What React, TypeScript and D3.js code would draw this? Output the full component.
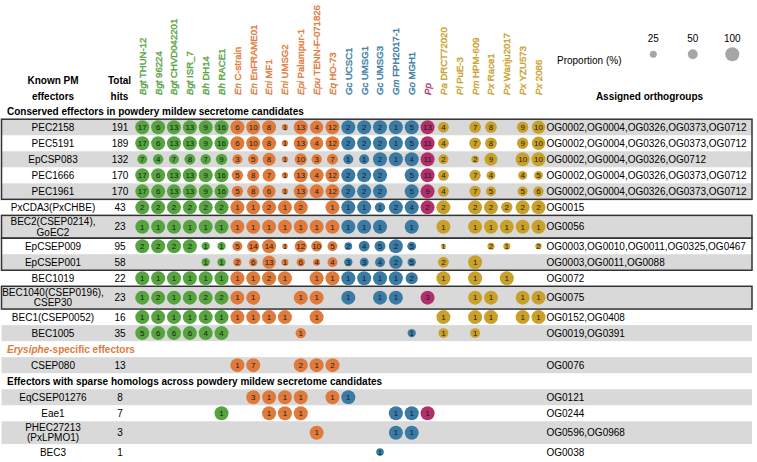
import React, { useRef, useEffect } from 'react';
import * as d3 from 'd3';

const _ = null;

// genome columns
const species = ['Bgt', 'Bgt', 'Bgt', 'Bgt', 'Bh', 'Bh', 'En', 'En', 'Eni', 'Eni', 'Epi', 'Epu', 'Eq',
    'Gc', 'Gc', 'Gc', 'Gm', 'Go', 'Pp', 'Pa', 'Pl', 'Pm', 'Px', 'Px', 'Px', 'Px'];
const strains = ['THUN-12', '96224', 'CHVD042201', 'ISR_7', 'DH14', 'RACE1', 'C-strain', 'EnFRAME01', 'MF1', 'UMSG2',
    'Palampur-1', 'TENN-F-071826', 'HO-73', 'UCSC1', 'UMSG1', 'UMSG3', 'FPH2017-1', 'MGH1', '', 'DRCT72020',
    'PuE-3', 'HPM-609', 'Race1', 'Wanju2017', 'YZU573', '2086'];
const clade = ['B', 'B', 'B', 'B', 'B', 'B', 'E', 'E', 'E', 'E', 'E', 'E', 'E',
    'G', 'G', 'G', 'G', 'G', 'Pp', 'P', 'P', 'P', 'P', 'P', 'P', 'P'];

const cladeColor = {
    B: '#56a43f',
    E: '#e07a3b',
    G: '#3a7ba5',
    Pp: '#b1306b',
    P: '#c9a12a',
};

// effector rows
const effectors = ['PEC2158', 'PEC5191', 'EpCSP083', 'PEC1666', 'PEC1961', 'PxCDA3(PxCHBE)',
    'BEC2(CSEP0214),\nGoEC2', 'EpCSEP009', 'EpCSEP001', 'BEC1019', 'BEC1040(CSEP0196),\nCSEP30',
    'BEC1(CSEP0052)', 'BEC1005', 'CSEP080', 'EqCSEP01276', 'Eae1', 'PHEC27213\n(PxLPMO1)', 'BEC3'];
const totalHits = [191, 189, 132, 170, 170, 43, 23, 95, 58, 22, 23, 16, 35, 13, 8, 7, 3, 1];
const orthogroups = [
    'OG0002,OG0004,OG0326,OG0373,OG0712',
    'OG0002,OG0004,OG0326,OG0373,OG0712',
    'OG0002,OG0004,OG0326,OG0712',
    'OG0002,OG0004,OG0326,OG0373,OG0712',
    'OG0002,OG0004,OG0326,OG0373,OG0712',
    'OG0015',
    'OG0056',
    'OG0003,OG0010,OG0011,OG0325,OG0467',
    'OG0003,OG0011,OG0088',
    'OG0072',
    'OG0075',
    'OG0152,OG0408',
    'OG0019,OG0391',
    'OG0076',
    'OG0121',
    'OG0244',
    'OG0596,OG0968',
    'OG0038',
];

const sections = [
    { start: 0, lead: '', title: 'Conserved effectors in powdery mildew secretome candidates', color: '#000' },
    { start: 13, lead: 'Erysiphe', title: '-specific effectors', color: '#e07a3b' },
    { start: 14, lead: '', title: 'Effectors with sparse homologs across powdery mildew secretome candidates', color: '#000' },
];

// outlined row groups [first, last]
const boxedRows = [[0, 4], [6, 6], [7, 8], [10, 10]];

// number of homologs per genome
const hitCounts = [
    [17, 6, 13, 13, 9, 16, 6, 10, 8, 1, 13, 4, 12, 2, 2, 2, 1, 5, 13, 4, _, 7, 8, _, 9, 10],
    [17, 6, 13, 13, 9, 16, 6, 10, 8, 1, 13, 4, 12, 2, 2, 2, 1, 5, 11, 4, _, 7, 8, _, 9, 10],
    [7, 4, 7, 8, 7, 9, 3, 5, 8, 1, 10, 3, 7, 1, 1, 2, 1, 4, 11, 2, _, 2, 9, _, 10, 10],
    [17, 6, 13, 13, 9, 16, 5, 8, 7, 1, 13, 4, 12, 2, 2, 2, _, 5, 11, 4, _, 7, 4, _, 4, 5],
    [17, 6, 13, 13, 9, 16, 5, 8, 6, 1, 13, 4, 12, 2, 2, 2, _, 5, 9, 4, _, 7, 5, _, 5, 6],
    [2, 2, 2, 2, 2, 2, 1, 1, 2, 1, 2, _, 1, 1, 1, 1, 2, 4, 2, 2, _, 2, 2, 2, 2, 2],
    [1, 1, 1, 1, 1, 1, 1, 1, 1, 1, 1, 1, 1, 1, 1, 1, _, 1, _, 1, _, 1, 1, 1, 1, 1],
    [2, 2, 2, 2, 1, 1, 5, 14, 14, 1, 12, 10, 5, 2, 4, 5, 2, 5, _, 1, _, _, 2, 1, _, 2],
    [_, _, _, _, 1, 1, 2, 6, 13, 1, 6, 4, 4, 3, 3, 4, 2, 5, _, 2, _, 1, _, _, _, _],
    [1, 1, 1, 1, 1, 1, 1, 1, 2, 1, _, 1, 1, 1, 1, 1, 1, 2, _, 1, _, 1, _, 1, _, _],
    [1, 2, 1, 1, 2, 2, 1, 1, _, _, 1, 1, _, 1, _, 1, 1, _, 3, _, _, 1, 1, _, 1, 1],
    [1, 1, 1, 1, 1, 1, 1, 1, 1, 1, _, 1, _, _, _, _, _, _, _, 1, _, 1, 1, _, 1, 1],
    [5, 6, 6, 6, 4, 4, _, _, _, _, 1, _, _, _, _, _, _, 1, _, 1, _, 1, _, _, _, _],
    [_, _, _, _, _, _, 1, 7, _, _, 2, 1, 2, _, _, _, _, _, _, _, _, _, _, _, _, _],
    [_, _, _, _, _, _, _, 3, 1, 1, 1, _, 1, 1, _, _, _, _, _, _, _, _, _, _, _, _],
    [_, _, _, _, _, 1, _, _, 1, 1, 1, _, _, _, _, _, 1, 1, 1, _, _, _, _, _, _, _],
    [_, _, _, _, _, _, _, _, _, _, _, 1, _, _, _, _, 1, 1, _, _, _, _, _, _, _, _],
    [_, _, _, _, _, _, _, _, _, _, _, _, _, _, _, 1, _, _, _, _, _, _, _, _, _, _],
];

// proportion (%) per genome, sets circle area
const proportions = [
    [100, 100, 100, 100, 100, 100, 100, 100, 100, 20, 100, 90, 100, 100, 100, 100, 100, 100, 100, 60, _, 70, 70, _, 65, 90],
    [100, 100, 100, 100, 100, 100, 100, 100, 100, 20, 100, 90, 100, 100, 100, 100, 100, 100, 100, 60, _, 70, 70, _, 65, 90],
    [50, 55, 50, 60, 55, 65, 50, 55, 85, 20, 75, 55, 60, 50, 50, 100, 100, 100, 100, 50, _, 30, 85, _, 100, 100],
    [100, 100, 100, 100, 100, 100, 65, 75, 85, 20, 100, 100, 100, 100, 100, 100, _, 100, 100, 60, _, 65, 40, _, 40, 40],
    [100, 100, 100, 100, 100, 100, 65, 75, 85, 20, 100, 100, 100, 100, 100, 100, _, 100, 100, 60, _, 65, 50, _, 50, 55],
    [100, 100, 100, 100, 100, 100, 100, 100, 100, 100, 100, _, 100, 100, 100, 55, 100, 100, 100, 100, _, 100, 100, 65, 100, 100],
    [100, 100, 100, 100, 100, 100, 100, 100, 100, 100, 100, 100, 100, 100, 100, 100, _, 100, _, 100, _, 100, 100, 100, 100, 100],
    [100, 100, 100, 100, 35, 35, 50, 75, 100, 15, 75, 60, 50, 30, 60, 60, 100, 40, _, 12, _, _, 25, 25, _, 20],
    [_, _, _, _, 35, 35, 35, 35, 90, 25, 35, 25, 50, 35, 40, 50, 90, 35, _, 60, _, 100, _, _, _, _],
    [100, 100, 100, 100, 100, 100, 100, 100, 100, 100, _, 100, 100, 100, 100, 100, 100, 75, _, 100, _, 100, _, 100, _, _],
    [100, 100, 100, 100, 100, 100, 100, 100, _, _, 100, 100, _, 100, _, 100, 100, _, 100, _, _, 100, 100, _, 100, 100],
    [100, 100, 100, 100, 100, 100, 100, 100, 100, 100, _, 100, _, _, _, _, _, _, _, 100, _, 100, 100, _, 100, 100],
    [100, 100, 100, 100, 100, 100, _, _, _, _, 55, _, _, _, _, _, _, 35, _, 50, _, 50, _, _, _, _],
    [_, _, _, _, _, _, 100, 100, _, _, 100, 100, 100, _, _, _, _, _, _, _, _, _, _, _, _, _],
    [_, _, _, _, _, _, _, 100, 100, 100, 100, _, 100, 100, _, _, _, _, _, _, _, _, _, _, _, _],
    [_, _, _, _, _, 100, _, _, 100, 100, 100, _, _, _, _, _, 100, 100, 100, _, _, _, _, _, _, _],
    [_, _, _, _, _, _, _, _, _, _, _, 100, _, _, _, _, 100, 100, _, _, _, _, _, _, _, _],
    [_, _, _, _, _, _, _, _, _, _, _, _, _, _, _, 30, _, _, _, _, _, _, _, _, _, _],
];

const legendValues = [25, 50, 100];

const App = () => {
    const svgRef = useRef(null);

    const width = 757;
    const height = 462;
    const font = '"Liberation Sans", Arial, sans-serif';

    useEffect(() => {
        const svg = d3.select(svgRef.current);
        svg.selectAll('*').remove();
        svg.attr('font-family', font);

        const x = d3.scalePoint().domain(d3.range(species.length)).range([142.3, 538.5]);
        const r = d3.scaleSqrt().domain([0, 100]).range([0, 7]);

        const single = 16.03;
        const double = 22.8;
        const left = 1.5;
        const right = 752;

        // vertical layout of section headers and rows
        const rowY = [];
        const sectionY = [];
        let cursor = 103.17;
        effectors.forEach((name, i) => {
            const sec = sections.find(s => s.start === i);
            if (sec) {
                sectionY.push(cursor + single / 2);
                cursor += single;
            }
            const h = name.includes('\n') ? double : single;
            rowY.push({ top: cursor, h, mid: cursor + h / 2 });
            cursor += h;
        });

        // row shading
        effectors.forEach((name, i) => {
            const sec = sections.filter(s => s.start <= i).pop();
            if ((i - sec.start) % 2 === 0) {
                svg.append('rect')
                    .attr('x', left).attr('y', rowY[i].top)
                    .attr('width', right - left).attr('height', rowY[i].h)
                    .attr('fill', '#d9d9d9');
            }
        });

        // group outlines
        boxedRows.forEach(([a, b]) => {
            svg.append('rect')
                .attr('x', left).attr('y', rowY[a].top)
                .attr('width', right - left).attr('height', rowY[b].top + rowY[b].h - rowY[a].top)
                .attr('fill', 'none')
                .attr('stroke', '#333')
                .attr('stroke-width', 1.5);
        });

        // column headers
        const head = svg.append('g');
        head.append('text').attr('x', 53).attr('y', 84).attr('text-anchor', 'middle')
            .attr('font-size', 10).attr('font-weight', 'bold').text('Known PM');
        head.append('text').attr('x', 53).attr('y', 99.5).attr('text-anchor', 'middle')
            .attr('font-size', 10).attr('font-weight', 'bold').text('effectors');
        head.append('text').attr('x', 119.5).attr('y', 84).attr('text-anchor', 'middle')
            .attr('font-size', 10).attr('font-weight', 'bold').text('Total');
        head.append('text').attr('x', 119.5).attr('y', 99.5).attr('text-anchor', 'middle')
            .attr('font-size', 10).attr('font-weight', 'bold').text('hits');
        head.append('text').attr('x', 649.5).attr('y', 99.5).attr('text-anchor', 'middle')
            .attr('font-size', 10).attr('font-weight', 'bold').text('Assigned orthogroups');

        species.forEach((sp, i) => {
            const t = head.append('text')
                .attr('transform', `translate(${x(i) + 3.4},95) rotate(-90)`)
                .attr('font-size', 9.6)
                .attr('fill', cladeColor[clade[i]])
                .attr('stroke', cladeColor[clade[i]])
                .attr('stroke-width', 0.35);
            t.append('tspan').attr('font-style', 'italic').text(sp);
            if (strains[i]) t.append('tspan').text(' ' + strains[i]);
        });

        // legend
        svg.append('text').attr('x', 557).attr('y', 63.5).attr('font-size', 10).text('Proportion (%)');
        const lx = d3.scalePoint().domain(legendValues).range([653.3, 732.3]);
        legendValues.forEach(v => {
            svg.append('circle').attr('cx', lx(v)).attr('cy', 54.3).attr('r', r(v)).attr('fill', '#a6a6a6');
            svg.append('text').attr('x', lx(v)).attr('y', 42).attr('text-anchor', 'middle')
                .attr('font-size', 10).text(v);
        });

        // section titles
        sections.forEach((s, k) => {
            const t = svg.append('text')
                .attr('x', 7).attr('y', sectionY[k] + 3.6)
                .attr('font-size', 10).attr('font-weight', 'bold')
                .attr('fill', s.color);
            if (s.lead) t.append('tspan').attr('font-style', 'italic').text(s.lead);
            t.append('tspan').text(s.title);
        });

        // row labels, totals, orthogroups
        effectors.forEach((name, i) => {
            const lines = name.split('\n');
            const y0 = rowY[i].mid - (lines.length - 1) * 5.2;
            lines.forEach((ln, j) => {
                svg.append('text').attr('x', 53).attr('y', y0 + j * 10.4 + 3.6)
                    .attr('text-anchor', 'middle').attr('font-size', 10).text(ln);
            });
            svg.append('text').attr('x', 120).attr('y', rowY[i].mid + 3.6)
                .attr('text-anchor', 'middle').attr('font-size', 10).text(totalHits[i]);
            svg.append('text').attr('x', 546.5).attr('y', rowY[i].mid + 3.6)
                .attr('font-size', 10).text(orthogroups[i]);
        });

        // homolog bubbles
        hitCounts.forEach((row, i) => {
            row.forEach((count, c) => {
                if (count === null) return;
                const g = svg.append('g').attr('transform', `translate(${x(c)},${rowY[i].mid})`);
                g.append('circle')
                    .attr('r', r(proportions[i][c]))
                    .attr('fill', cladeColor[clade[c]]);
                g.append('text')
                    .attr('text-anchor', 'middle')
                    .attr('dy', '0.35em')
                    .attr('font-size', 8)
                    .attr('fill', '#1a1a1a')
                    .text(count);
            });
        });
    }, []);

    return (
        <svg
            ref={svgRef}
            width={width}
            height={height}
            style={{ position: 'absolute', left: 0, top: 0, background: '#fff' }}
        />
    );
};

export default App;
